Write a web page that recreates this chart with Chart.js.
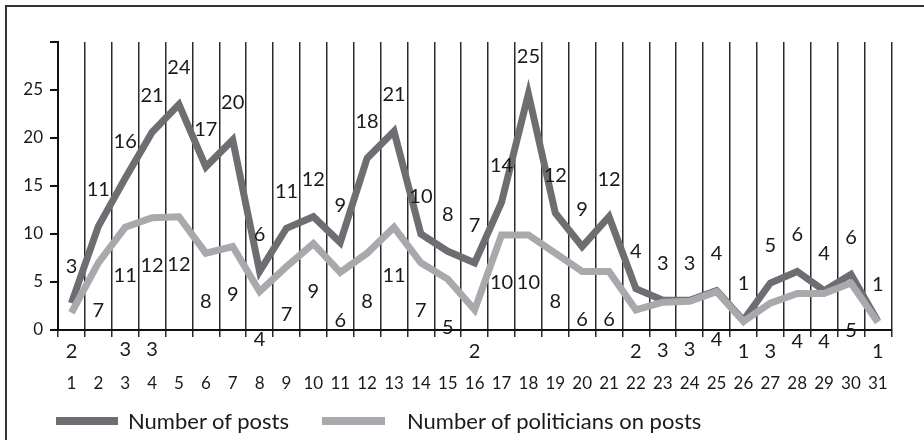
<!DOCTYPE html>
<html>
<head>
<meta charset="utf-8">
<script src="https://cdn.jsdelivr.net/npm/chart.js@4.4.1/dist/chart.umd.min.js"></script>
<style>
  body { margin: 0; background: #fff; }
  #wrap { position: relative; width: 924px; height: 440px; overflow: hidden; font-family: Lato, sans-serif; color: #1a1a1a; }
  #frame { position: absolute; left: 5px; top: 5px; width: 940px; height: 460px; border-left: 2px solid #333; border-top: 2px solid #333; }
  canvas { position: absolute; left: 0; top: 0; }
  .key { position: absolute; height: 8px; }
  .keytext { position: absolute; font-size: 22px; line-height: 26px; white-space: nowrap; }
</style>
</head>
<body>
<div id="wrap">
  <div id="frame"></div>
  <canvas id="chart" width="924" height="440"></canvas>
  <div class="key" style="left:56px; top:417px; width:62px; background:#6d6e71;"></div>
  <div class="keytext" style="left:128px; top:408px;">Number of posts</div>
  <div class="key" style="left:322px; top:417px; width:63px; background:#a7a9ac;"></div>
  <div class="keytext" style="left:407px; top:408px;">Number of politicians on posts</div>
</div>
<script>
const days = ['1','2','3','4','5','6','7','8','9','10','11','12','13','14','15','16','17','18','19','20','21','22','23','24','25','26','27','28','29','30','31'];

const posts = [2.8, 10.8, 15.8, 20.6, 23.5, 17.0, 19.8, 6.1, 10.6, 11.8, 9.1, 17.9, 20.7, 10.0, 8.2, 7.0, 13.3, 24.6, 12.2, 8.7, 11.8, 4.3, 3.1, 3.1, 4.1, 1.0, 4.9, 6.1, 4.1, 5.8, 0.9];
const postLabels = [3, 11, 16, 21, 24, 17, 20, 6, 11, 12, 9, 18, 21, 10, 8, 7, 14, 25, 12, 9, 12, 4, 3, 3, 4, 1, 5, 6, 4, 6, 1];

const politicians = [1.8, 7.0, 10.7, 11.7, 11.8, 8.0, 8.7, 4.0, 6.6, 9.0, 6.0, 8.0, 10.7, 7.0, 5.3, 2.1, 9.9, 9.9, 8.0, 6.1, 6.1, 2.1, 2.9, 3.0, 4.0, 0.9, 2.8, 3.8, 3.8, 4.9, 0.8];
const politicianLabels = [2, 7, 11, 12, 12, 8, 9, 4, 7, 9, 6, 8, 11, 7, 5, 2, 10, 10, 8, 6, 6, 2, 3, 3, 4, 1, 3, 4, 4, 5, 1];

// stray labels that sit under days 3 and 4 in the original
const extraValues = [null, null, 3, 3, null, null, null, null, null, null, null, null, null, null, null, null, null, null, null, null, null, null, null, null, null, null, null, null, null, null, null];
const extraLabels = [null, null, 3, 3, null, null, null, null, null, null, null, null, null, null, null, null, null, null, null, null, null, null, null, null, null, null, null, null, null, null, null];

const yTicks = [0, 5, 10, 15, 20, 25, 30];

const labelPlugin = {
  id: 'pointLabels',
  afterDatasetsDraw(chart) {
    const ctx = chart.ctx;
    ctx.save();
    ctx.font = '20px Lato';
    ctx.fillStyle = '#1a1a1a';
    ctx.textAlign = 'center';
    ctx.textBaseline = 'middle';
    chart.data.datasets.forEach((ds, i) => {
      const meta = chart.getDatasetMeta(i);
      meta.data.forEach((pt, j) => {
        const txt = ds.pointText[j];
        if (txt === null || txt === undefined) return;
        let y;
        if (ds.textSide === 'above') {
          y = pt.y - 37;
        } else {
          y = Math.min(pt.y + 48, chart.chartArea.bottom + 22);
        }
        ctx.fillText(String(txt), pt.x, y);
      });
    });
    ctx.restore();
  }
};

new Chart(document.getElementById('chart'), {
  type: 'line',
  data: {
    labels: days,
    datasets: [
      {
        label: 'Number of posts',
        data: posts,
        pointText: postLabels,
        textSide: 'above',
        borderColor: '#6d6e71',
        borderWidth: 7,
        pointRadius: 0,
        tension: 0,
        order: 2,
      },
      {
        label: 'Number of politicians on posts',
        data: politicians,
        pointText: politicianLabels,
        textSide: 'below',
        borderColor: '#a7a9ac',
        borderWidth: 7,
        pointRadius: 0,
        tension: 0,
        order: 1,
      },
      {
        label: 'extra',
        data: extraValues,
        pointText: extraLabels,
        textSide: 'below',
        showLine: false,
        pointRadius: 0,
        order: 3,
      },
    ],
  },
  options: {
    responsive: false,
    animation: false,
    layout: { padding: { top: 42, right: 19, left: 0, bottom: 0 } },
    plugins: {
      legend: { display: false },
      tooltip: { enabled: false },
    },
    scales: {
      x: {
        offset: true,
        grid: {
          offset: true,
          color: '#2a2a2a',
          lineWidth: 1.5,
          tickLength: 7,
        },
        border: { color: '#111', width: 2 },
        ticks: {
          font: { family: 'Lato', size: 17 },
          color: '#1a1a1a',
          padding: 36,
          maxRotation: 0,
          autoSkip: false,
        },
        afterFit(scale) { scale.height = 110; },
      },
      y: {
        min: 0,
        max: 30,
        afterBuildTicks(scale) { scale.ticks = yTicks.map(v => ({ value: v })); },
        grid: {
          drawOnChartArea: false,
          drawTicks: true,
          tickLength: 8,
          color: '#111',
          lineWidth: 2,
        },
        border: { color: '#111', width: 2 },
        ticks: {
          font: { family: 'Lato', size: 17 },
          color: '#1a1a1a',
          padding: 7,
          callback: (v) => (v === 30 ? '' : v),
        },
        afterFit(scale) { scale.width = 58; },
      },
    },
  },
  plugins: [labelPlugin],
});
</script>
</body>
</html>
